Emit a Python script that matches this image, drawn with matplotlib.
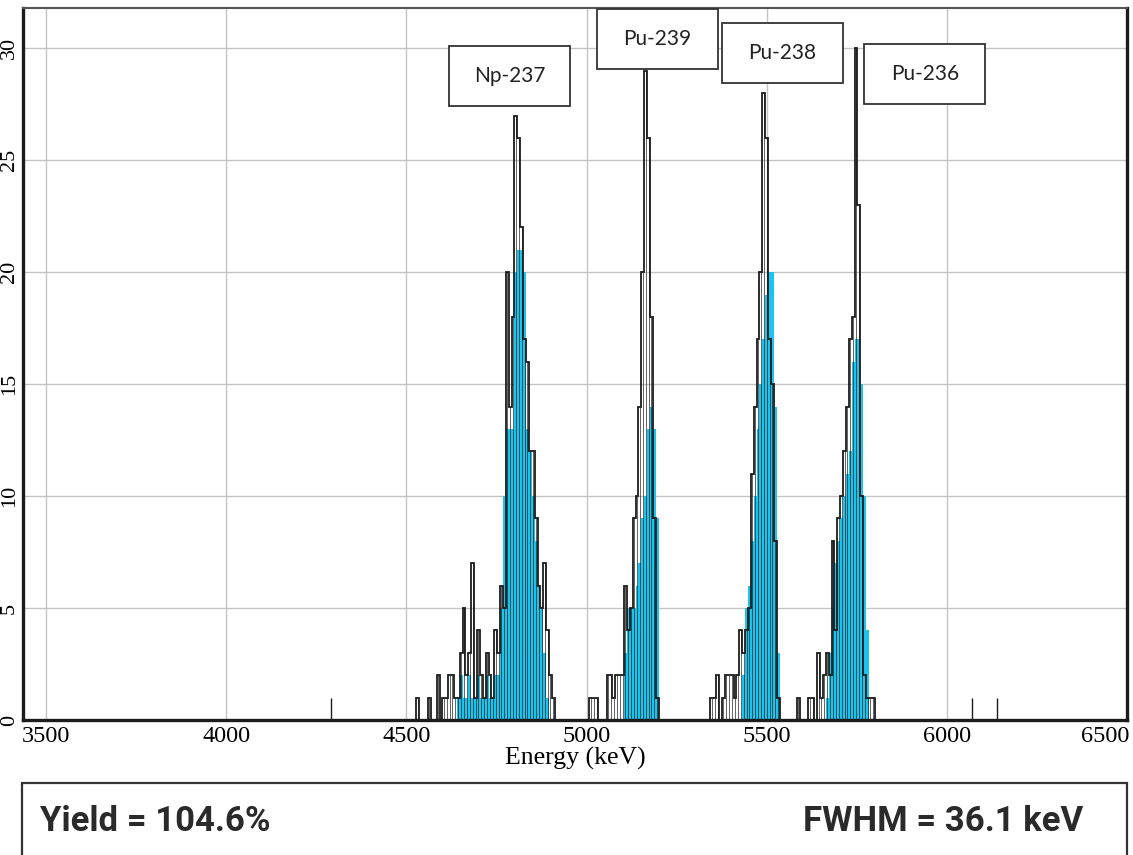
import numpy as np
import matplotlib
matplotlib.use("Agg")
import matplotlib.pyplot as plt
import matplotlib.transforms as mtransforms
from matplotlib.patches import Rectangle

# spectrum, 8 keV channels: black = measured counts, cyan = region of interest
bin_kev = 8

np237_start = 4512
np237_counts = [0, 0, 1, 0, 0, 0, 1, 0, 0, 2, 0, 1, 1, 2, 2, 1, 1, 3, 5, 2,
                3, 7, 1, 4, 2, 1, 3, 2, 1, 4, 3, 6, 5, 20, 14, 18, 27, 26, 22, 17,
                16, 12, 12, 9, 6, 5, 7, 4, 2, 1]
np237_roi_start = 4640
np237_roi = [1, 2, 1, 1, 2, 1, 1, 2, 1, 1, 2, 1, 1, 2, 2, 5, 10, 13, 13, 13,
             20, 21, 21, 20, 13, 12, 10, 8, 6, 5, 3, 1]

pu239_start = 5008
pu239_counts = [1, 1, 1, 0, 0, 0, 2, 2, 1, 2, 2, 2, 6, 4, 5, 9, 10, 14, 20, 29,
                26, 18, 9, 1]
pu239_roi_start = 5104
pu239_roi = [3, 5, 5, 5, 6, 7, 9, 10, 13, 14, 13, 9]

pu238_start = 5344
pu238_counts = [1, 1, 2, 0, 1, 2, 2, 2, 1, 2, 4, 3, 4, 5, 11, 14, 17, 20, 28, 26,
                17, 15, 8, 1]
pu238_roi_start = 5432
pu238_roi = [2, 5, 6, 8, 10, 13, 15, 17, 19, 20, 20, 14, 3]

pu236_start = 5584
pu236_counts = [1, 0, 0, 0, 1, 1, 0, 3, 1, 2, 3, 2, 8, 4, 9, 10, 12, 14, 17, 18,
                30, 23, 10, 2, 1, 1, 1, 0]
pu236_roi_start = 5664
pu236_roi = [1, 3, 5, 7, 8, 9, 10, 11, 12, 16, 17, 17, 15, 10, 4]

stray_energy = [4290, 6069, 6138]
stray_counts = [1, 1, 1]

# peak labels: name, box centre (keV, counts)
label_names = ["Np-237", "Pu-239", "Pu-238", "Pu-236"]
label_x = [4786, 5196, 5544, 5939]
label_y = [28.75, 30.4, 29.8, 28.85]

yield_pct = 104.6
fwhm_kev = 36.1

cyan = "#1ac4ec"
ink = "#1c1c1c"

fig = plt.figure(figsize=(11.33, 8.55), dpi=100)
ax = fig.add_axes([0.0203, 0.1579, 0.9744, 0.8327])

segments = [
    (np237_start, np237_counts, np237_roi_start, np237_roi),
    (pu239_start, pu239_counts, pu239_roi_start, pu239_roi),
    (pu238_start, pu238_counts, pu238_roi_start, pu238_roi),
    (pu236_start, pu236_counts, pu236_roi_start, pu236_roi),
]
for start, counts, roi_start, roi in segments:
    roi_edges = roi_start + bin_kev * np.arange(len(roi) + 1)
    ax.stairs(roi, roi_edges, fill=True, color=cyan, lw=0, zorder=2)
    edges = start + bin_kev * np.arange(len(counts) + 1)
    centres = edges[:-1] + bin_kev / 2
    ax.vlines(centres, 0, counts, color=ink, lw=0.6, alpha=0.8, zorder=3)
    ax.stairs(counts, edges, color=ink, lw=1.3, zorder=3)

ax.vlines(stray_energy, 0, stray_counts, color=ink, lw=1.0, zorder=3)

ax.set_xlim(3436, 6500)
ax.set_ylim(0, 31.8)
ax.set_xticks([3500, 4000, 4500, 5000, 5500, 6000, 6500])
ax.set_yticks([0, 5, 10, 15, 20, 25, 30])
ax.grid(color="#c4c4c4", lw=1.0, zorder=0)
ax.set_axisbelow(True)
ax.tick_params(length=0, labelsize=17.5, pad=4)
ax.tick_params(axis="y", labelsize=16, pad=3)
for lab in ax.get_xticklabels() + ax.get_yticklabels():
    lab.set_fontfamily("Liberation Serif")
for lab in ax.get_yticklabels():
    lab.set_rotation(90)
    lab.set_verticalalignment("center")
last = ax.get_xticklabels()[-1]
last.set_transform(last.get_transform() + mtransforms.ScaledTranslation(-0.22, 0, fig.dpi_scale_trans))
ax.set_xlabel("Energy (keV)", fontsize=18.5, family="Liberation Serif", labelpad=0)

for side in ["left", "bottom", "right"]:
    ax.spines[side].set_color(ink)
    ax.spines[side].set_linewidth(2.4)
ax.spines["top"].set_color("#555555")
ax.spines["top"].set_linewidth(1.5)

# label boxes
box_w, box_h = 336, 2.68
for name, x, y in zip(label_names, label_x, label_y):
    ax.add_patch(Rectangle((x - box_w / 2, y - box_h / 2), box_w, box_h,
                           facecolor="white", edgecolor="#333333", lw=1.3,
                           zorder=5, clip_on=False))
    ax.text(x, y, name, ha="center", va="center", fontsize=15,
            family="Lato", color="#222222", zorder=6, clip_on=False)

# results box under the chart
fig.patches.append(Rectangle((0.0194, -0.05), 0.9753, 0.1342,
                             transform=fig.transFigure, facecolor="white",
                             edgecolor="#333333", lw=1.6))
fig.text(0.0353, 0.0386, f"Yield = {yield_pct}%", ha="left", va="center",
         fontsize=25, fontweight="bold", family="Roboto", color="#2a2a2a")
fig.text(0.9559, 0.0386, f"FWHM = {fwhm_kev} keV", ha="right", va="center",
         fontsize=25, fontweight="bold", family="Roboto", color="#2a2a2a")

fig.savefig("out.png", dpi=100)
